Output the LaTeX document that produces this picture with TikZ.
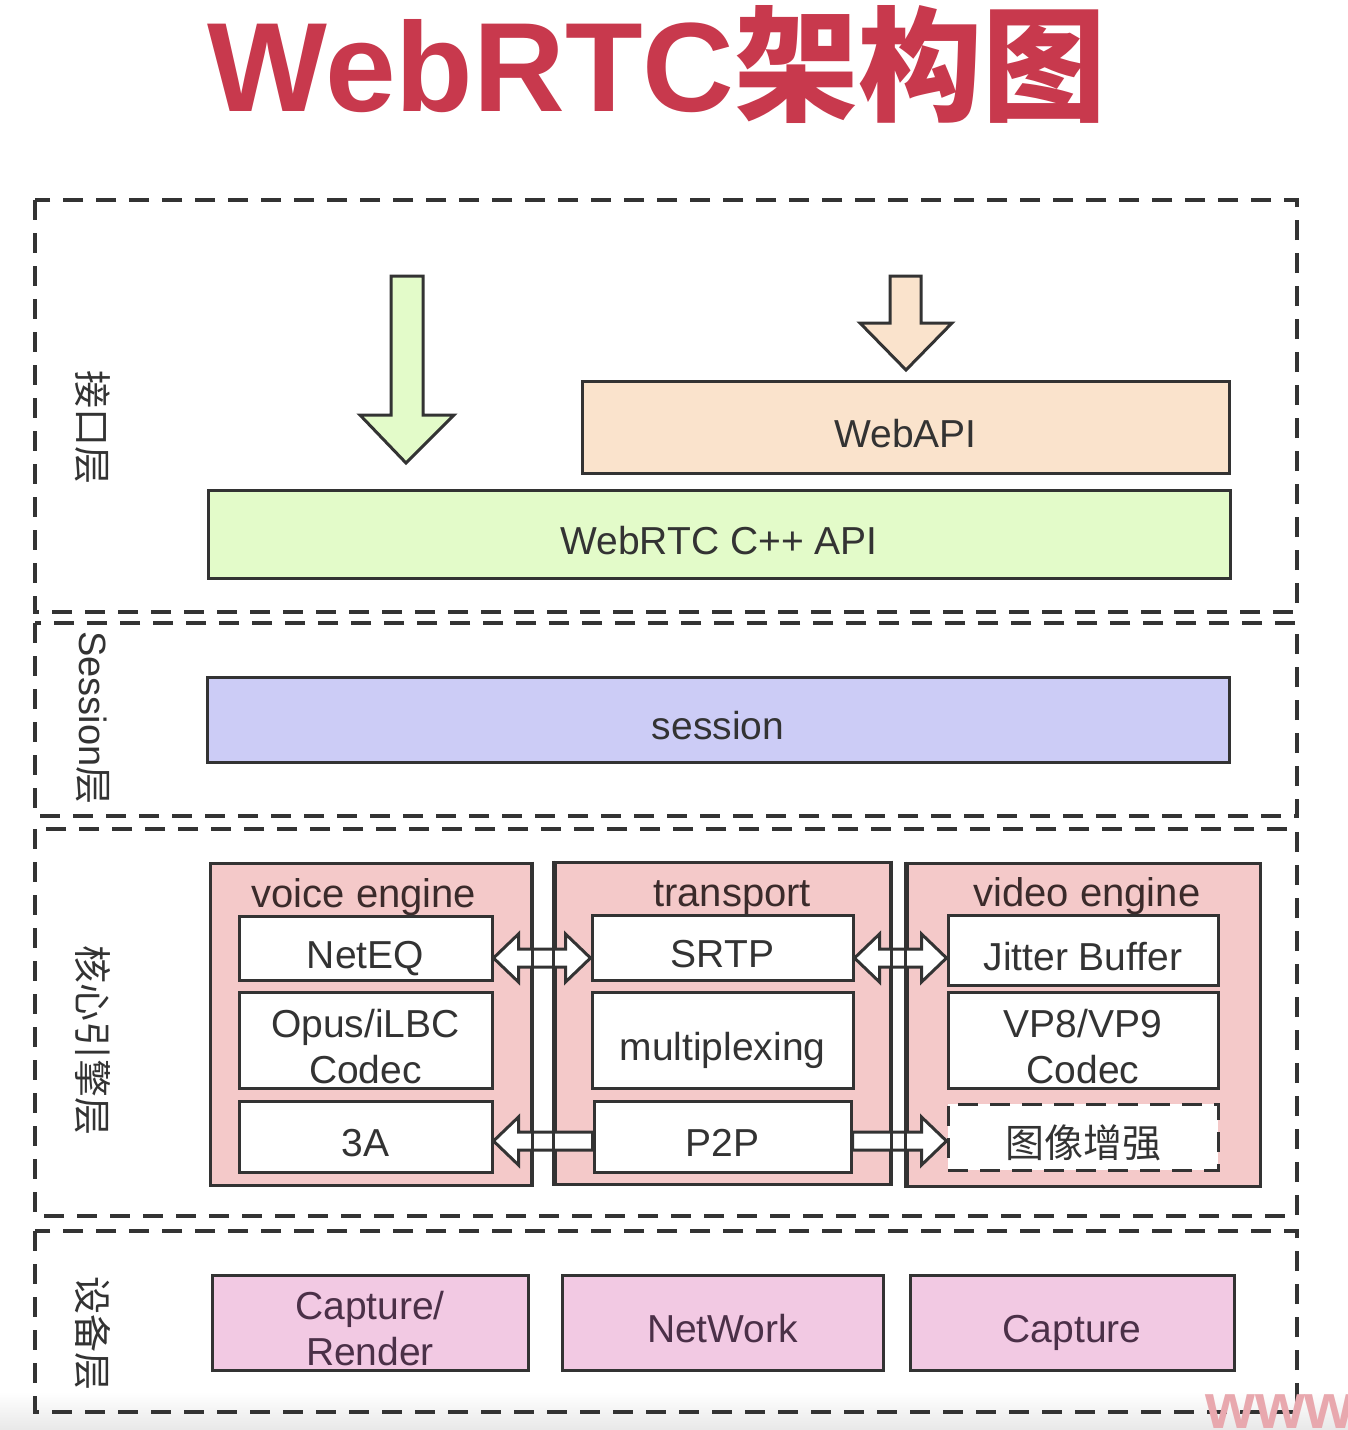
\documentclass[tikz,border=0pt]{standalone}
\usepackage{fontspec}
\setmainfont{Liberation Sans}
\newfontfamily\cjk{Noto Sans CJK SC}
\usetikzlibrary{calc}
\definecolor{lc}{HTML}{333333}
\definecolor{tc}{HTML}{333333}
\definecolor{titlered}{HTML}{C8394D}
\definecolor{greenf}{HTML}{E3FBC9}
\definecolor{orangef}{HTML}{FAE3CC}
\definecolor{sessf}{HTML}{CCCCF6}
\definecolor{engf}{HTML}{F4C9C9}
\definecolor{devf}{HTML}{F2C9E3}
\definecolor{devt}{HTML}{4B3048}
\definecolor{engt}{HTML}{3B2B2B}
\definecolor{wm}{HTML}{E8A8AE}
\tikzset{
  layer/.style={draw=lc, line width=3.5pt, dash pattern=on 20pt off 13pt},
  layerlabel/.style={rotate=-90, text=tc, inner sep=0pt, font=\fontsize{38}{42}\selectfont},
  box/.style={draw=lc, line width=3pt, inner sep=0pt, text=tc, align=center,
    font=\fontsize{39}{46}\selectfont, text height=40pt, text depth=0pt},
  twoline/.style={text height=86pt, text depth=0pt},
  engbox/.style={box, fill=engf},
  inbox/.style={box, fill=white},
  devbox/.style={box, fill=devf, text=devt},
  englabel/.style={inner sep=0pt, text=engt, font=\fontsize{40}{46}\selectfont},
  blockarrow/.style={draw=lc, line width=3pt, line join=miter, fill=white},
}
\begin{document}
\begin{tikzpicture}[x=1pt,y=-1pt]
\useasboundingbox (0,0) rectangle (1348,1430);
\fill[white] (0,0) rectangle (1348,1430);
\shade[top color=white, bottom color=black!9] (0,1392) rectangle (1348,1430);

% title
\node[anchor=base, inner sep=0pt, text=titlered] (title) at (657,111)
  {\fontsize{127}{130}\selectfont\bfseries WebRTC{\cjk\fontsize{124}{130}\selectfont\bfseries 架构图}};

% layers
\draw[layer] (35,200) rectangle (1297,612);
\draw[layer] (35,623) rectangle (1297,816);
\draw[layer] (35,829) rectangle (1297,1216);
\draw[layer] (35,1231) rectangle (1297,1412);

\node[layerlabel] (l1) at (93,427) {\cjk 接口层};
\node[layerlabel] (l2) at (93,718) {Session{\cjk 层}};
\node[layerlabel] (l3) at (93,1040) {\cjk 核心引擎层};
\node[layerlabel] (l4) at (93,1333) {\cjk 设备层};

% interface layer
\node[box, fill=orangef, minimum width=647pt, minimum height=92pt] (webapi) at (905.5,427) {WebAPI};
\node[box, fill=greenf, minimum width=1022pt, minimum height=88pt] (cppapi) at (719,534) {WebRTC C++ API};

\coordinate (gtip) at (406,463);
\draw[blockarrow, fill=greenf] (gtip) -- ++(-46,-48) -- ++(31,0) -- ++(0,-139) -- ++(32,0) -- ++(0,139) -- ++(31,0) -- cycle;
\coordinate (otip) at (906,370);
\draw[blockarrow, fill=orangef] (otip) -- ++(-46,-47) -- ++(30,0) -- ++(0,-47) -- ++(31,0) -- ++(0,47) -- ++(31,0) -- cycle;

% session layer
\node[box, fill=sessf, minimum width=1022pt, minimum height=85pt] (session) at (718,719.5) {session};

% core engine layer
\node[engbox, minimum width=321pt, minimum height=322pt] (voice) at (370.5,1024) {};
\node[engbox, minimum width=335pt, minimum height=322pt] (transport) at (722.5,1023) {};
\node[engbox, minimum width=353pt, minimum height=323pt] (video) at (1083.5,1024.5) {};

\node[englabel, anchor=base] (vlab) at (364,907) {voice engine};
\node[englabel, anchor=base] (tlab) at (732,906) {transport};
\node[englabel, anchor=base] (vdlab) at (1087,906) {video engine};

\node[inbox, minimum width=253pt, minimum height=64pt] (neteq) at (365.5,948) {NetEQ};
\node[inbox, twoline, minimum width=253pt, minimum height=96pt] (opus) at (365.5,1040) {Opus/iLBC\\Codec};
\node[inbox, minimum width=253pt, minimum height=71pt] (threea) at (365.5,1136.5) {3A};

\node[inbox, minimum width=261pt, minimum height=65pt] (srtp) at (722.5,947.5) {SRTP};
\node[inbox, minimum width=261pt, minimum height=96pt] (mux) at (722.5,1040) {multiplexing};
\node[inbox, minimum width=257pt, minimum height=71pt] (p2p) at (722.5,1136.5) {P2P};

\node[inbox, minimum width=270pt, minimum height=70pt] (jitter) at (1083,950) {Jitter Buffer};
\node[inbox, twoline, minimum width=270pt, minimum height=96pt] (vp8) at (1083,1040) {VP8/VP9\\Codec};
\node[inbox, dash pattern=on 20pt off 12pt, minimum width=270pt, minimum height=66pt] (imgenh) at (1083,1137) {\cjk 图像增强};

% arrows
\coordinate (a1) at (neteq.east |- 0,958);
\coordinate (b1) at (srtp.west |- 0,958);
\draw[blockarrow] (a1) -- ++(25,-24) -- ++(0,15) -- ($(b1)+(-25,-9)$) -- ++(0,-15) -- (b1)
  -- ++(-25,24) -- ++(0,-15) -- ($(a1)+(25,9)$) -- ++(0,15) -- cycle;
\coordinate (a2) at (srtp.east |- 0,958);
\coordinate (b2) at (jitter.west |- 0,958);
\draw[blockarrow] (a2) -- ++(25,-24) -- ++(0,15) -- ($(b2)+(-25,-9)$) -- ++(0,-15) -- (b2)
  -- ++(-25,24) -- ++(0,-15) -- ($(a2)+(25,9)$) -- ++(0,15) -- cycle;
\coordinate (a3) at (threea.east |- 0,1141);
\coordinate (b3) at (p2p.west |- 0,1141);
\draw[blockarrow] (a3) -- ++(25,-24) -- ++(0,15) -- ($(b3)+(0,-9)$) -- ++(0,18) -- ($(a3)+(25,9)$) -- ++(0,15) -- cycle;
\coordinate (a4) at (p2p.east |- 0,1141);
\coordinate (b4) at (imgenh.west |- 0,1141);
\draw[blockarrow] ($(a4)+(0,-9)$) -- ($(b4)+(-25,-9)$) -- ++(0,-15) -- (b4) -- ++(-25,24) -- ++(0,-15) -- ($(a4)+(0,9)$) -- cycle;

% box edges over the arrow shafts
\draw[draw=lc, line width=3pt] (voice.north east) -- (voice.south east);
\draw[draw=lc, line width=3pt] (transport.north west) -- (transport.south west);
\draw[draw=lc, line width=3pt] (transport.north east) -- (transport.south east);
\draw[draw=lc, line width=3pt] (video.north west) -- (video.south west);

% device layer
\node[devbox, twoline, minimum width=316pt, minimum height=95pt] (caprender) at (370,1322.5) {Capture/\\Render};
\node[devbox, minimum width=321pt, minimum height=95pt] (network) at (722.5,1322.5) {NetWork};
\node[devbox, minimum width=324pt, minimum height=95pt] (capture) at (1072,1322.5) {Capture};

% watermark
\begin{scope}
\clip (0,0) rectangle (1348,1430);
\node[anchor=base west, inner sep=0pt, text=wm, font=\fontsize{64}{64}\selectfont\bfseries] (wmark) at (1205,1428) {www};
\end{scope}
\end{tikzpicture}
\end{document}
